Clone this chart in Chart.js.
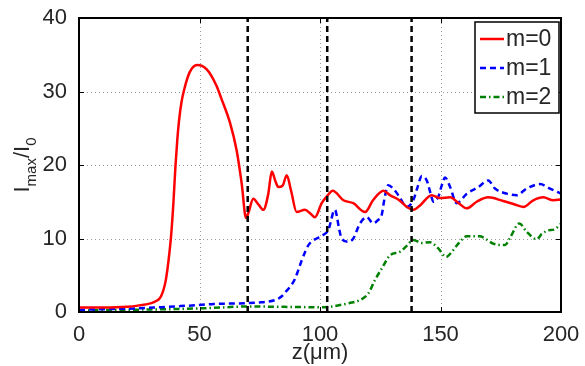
<!DOCTYPE html>
<html>
<head>
<meta charset="utf-8">
<script src="https://cdn.jsdelivr.net/npm/chart.js@4"></script>
<style>
  html, body { margin: 0; padding: 0; background: #fff; }
  #wrap { width: 585px; height: 366px; }
</style>
</head>
<body>
<div id="wrap"><canvas id="chart" width="585" height="366"></canvas></div>
<script>
// z positions (um) and Imax/I0 values
const zM0 = [0, 10, 20, 25, 30, 32, 34, 36, 37.5, 38.3, 39.2, 40, 40.8, 41.5, 42.5, 43.6, 45.9, 49, 51, 53, 55, 57, 59, 62.7, 65.4, 67.5, 69.3, 70.3, 72.3, 74.5, 76.5, 78.5, 80, 81.5, 82.7, 84.5, 86.2, 88, 90.3, 93.8, 96, 97.9, 100.7, 103, 105.3, 109.7, 113.8, 118.7, 122, 126.3, 129, 132.9, 136, 138.7, 141.5, 146.3, 149.8, 154, 157.4, 160.9, 165, 169.8, 176, 180.2, 184.4, 188.5, 192.7, 196.8, 200];
const m0 = [0.6, 0.6, 0.7, 0.9, 1.2, 1.5, 2.1, 4.3, 8, 10.7, 15, 19.7, 23.5, 26, 28.5, 30.2, 32.6, 33.6, 33.5, 33.0, 32.1, 30.8, 29.1, 25.7, 22, 17.5, 12.8, 13.5, 15.4, 14.6, 13.9, 16, 19.1, 17.8, 17.0, 17.2, 18.6, 16.5, 13.6, 13.9, 13.4, 12.9, 14.8, 15.8, 16.5, 15.2, 14.8, 13.6, 15.2, 16.5, 15.9, 15.2, 14.3, 13.9, 14.5, 15.9, 15.5, 15.6, 14.85, 14.1, 15.0, 15.6, 15.1, 14.7, 14.3, 15.2, 15.6, 15.2, 15.3];

const zM1 = [0, 13, 25, 33.6, 42, 50, 56, 62, 69.6, 75, 78, 82, 84, 86.2, 88, 89.6, 91, 92.4, 94, 95.2, 97, 98.6, 101.4, 103.5, 104.5, 105.5, 106.3, 107, 108, 109, 111.7, 113.8, 116.6, 119.4, 122.1, 124, 125.6, 126.8, 128.3, 130.4, 132.9, 136, 138.7, 140.5, 142.2, 144.3, 146, 147, 149.1, 150.5, 151.9, 154, 156.7, 160.9, 165.7, 169.8, 172.6, 177.5, 181.6, 185.8, 191.3, 195.4, 200];
const m1 = [0.3, 0.4, 0.5, 0.65, 0.8, 0.95, 1.1, 1.15, 1.2, 1.3, 1.4, 1.7, 2.1, 2.9, 3.6, 4.5, 5.7, 7.0, 8.3, 9.1, 9.7, 10.0, 10.5, 11.2, 12.3, 13.6, 13.9, 13.0, 11.2, 10.0, 9.55, 10.0, 12.05, 12.9, 12.05, 12.5, 13.2, 15.5, 17.25, 16.8, 15.7, 14.3, 15.2, 17.0, 18.5, 17.9, 16.0, 15.0, 15.7, 17.2, 18.3, 17.0, 14.8, 16.1, 17.0, 17.9, 16.8, 16.1, 15.9, 16.8, 17.4, 16.8, 16.1];

const zM2 = [0, 20, 40, 55, 70, 85, 100, 105, 108.3, 112, 116.6, 120, 122.8, 125.6, 129, 133.2, 136, 138.7, 142.2, 145.6, 149.1, 152.3, 155, 157.4, 160.9, 166.4, 168, 171.9, 176.8, 179, 182.7, 185.8, 189.9, 192, 194.7, 197, 200];
const m2 = [0.2, 0.3, 0.4, 0.55, 0.75, 0.7, 0.65, 0.75, 0.95, 1.2, 1.63, 2.5, 4.35, 5.9, 7.7, 8.2, 9.0, 9.8, 9.4, 9.5, 8.65, 7.5, 8.3, 9.3, 10.3, 10.3, 10.1, 9.3, 9.1, 10.2, 12.05, 10.9, 9.9, 10.6, 11.1, 11.2, 12.0];

// vertical dashed marker lines
const markerZ = [70, 103, 138];

const seriesLabels = ['m=0', 'm=1', 'm=2'];
const xTicks = [0, 50, 100, 150, 200];
const yTicks = [0, 10, 20, 30, 40];

const FONT = '"Liberation Sans", Arial, Helvetica, sans-serif';
const TXT = '#262626';

function pts(xs, ys) {
  return xs.map((x, i) => ({ x: x, y: ys[i] }));
}

const datasets = [
  { label: seriesLabels[0], data: pts(zM0, m0), borderColor: '#ff0000', borderWidth: 2.5, pointRadius: 0, cubicInterpolationMode: 'monotone', order: 1 },
  { label: seriesLabels[1], data: pts(zM1, m1), borderColor: '#0000ff', borderWidth: 2.5, borderDash: [6, 4], pointRadius: 0, cubicInterpolationMode: 'monotone', order: 2 },
  { label: seriesLabels[2], data: pts(zM2, m2), borderColor: '#008000', borderWidth: 2.5, borderDash: [6, 3, 1.5, 3], pointRadius: 0, cubicInterpolationMode: 'monotone', order: 3 }
];
markerZ.forEach(z => {
  datasets.push({
    label: '', data: [{ x: z, y: 0 }, { x: z, y: 40 }],
    borderColor: '#000', borderWidth: 2.5, borderDash: [6, 4], pointRadius: 0, order: 0
  });
});

// dotted grid behind the data
const dottedGrid = {
  id: 'dottedGrid',
  beforeDatasetsDraw(chart) {
    const ctx = chart.ctx;
    const a = chart.chartArea;
    const xs = chart.scales.x, ys = chart.scales.y;
    ctx.save();
    ctx.strokeStyle = '#999999';
    ctx.lineWidth = 1;
    ctx.setLineDash([1, 3]);
    xTicks.slice(1, -1).forEach(t => {
      const px = Math.round(xs.getPixelForValue(t)) + 0.5;
      ctx.beginPath(); ctx.moveTo(px, a.bottom); ctx.lineTo(px, a.top); ctx.stroke();
    });
    yTicks.slice(1, -1).forEach(t => {
      const py = Math.round(ys.getPixelForValue(t)) + 0.5;
      ctx.beginPath(); ctx.moveTo(a.left, py); ctx.lineTo(a.right, py); ctx.stroke();
    });
    ctx.restore();
  }
};

// frame, inner tick marks, y title with subscripts, legend box
const matlabLook = {
  id: 'matlabLook',
  afterDraw(chart) {
    const ctx = chart.ctx;
    const a = chart.chartArea;
    const xs = chart.scales.x, ys = chart.scales.y;
    ctx.save();
    ctx.strokeStyle = '#000';
    ctx.lineWidth = 1;
    ctx.setLineDash([]);
    xTicks.forEach(t => {
      const px = Math.round(xs.getPixelForValue(t)) + 0.5;
      ctx.beginPath();
      ctx.moveTo(px, a.bottom); ctx.lineTo(px, a.bottom - 5);
      ctx.moveTo(px, a.top); ctx.lineTo(px, a.top + 5);
      ctx.stroke();
    });
    yTicks.forEach(t => {
      const py = Math.round(ys.getPixelForValue(t)) + 0.5;
      ctx.beginPath();
      ctx.moveTo(a.left, py); ctx.lineTo(a.left + 5, py);
      ctx.moveTo(a.right, py); ctx.lineTo(a.right - 5, py);
      ctx.stroke();
    });
    ctx.lineWidth = 2;
    ctx.strokeRect(a.left, a.top, a.right - a.left, a.bottom - a.top);

    // y axis title: I_max / I_0
    ctx.translate(29, (a.top + a.bottom) / 2);
    ctx.rotate(-Math.PI / 2);
    ctx.fillStyle = TXT;
    ctx.textBaseline = 'alphabetic';
    const big = '22px ' + FONT, small = '15px ' + FONT;
    const parts = [['I', big, 0], ['max', small, 7], ['/', big, 0], ['I', big, 0], ['0', small, 7]];
    let w = 0;
    parts.forEach(p => { ctx.font = p[1]; w += ctx.measureText(p[0]).width; });
    let cx = -w / 2;
    parts.forEach(p => {
      ctx.font = p[1];
      ctx.fillText(p[0], cx, p[2]);
      cx += ctx.measureText(p[0]).width;
    });
    ctx.setTransform(1, 0, 0, 1, 0, 0);

    // legend
    const lx = a.right - 86, ly = a.top + 4, lw = 84, lh = 91;
    ctx.fillStyle = '#fff';
    ctx.fillRect(lx, ly, lw, lh);
    ctx.lineWidth = 1.5;
    ctx.strokeStyle = '#000';
    ctx.strokeRect(lx, ly, lw, lh);
    ctx.font = '23px ' + FONT;
    ctx.textBaseline = 'middle';
    for (let i = 0; i < 3; i++) {
      const ds = chart.data.datasets[i];
      const yy = ly + 17 + i * 29;
      ctx.strokeStyle = ds.borderColor;
      ctx.lineWidth = 2.5;
      ctx.setLineDash(ds.borderDash || []);
      ctx.beginPath();
      ctx.moveTo(lx + 5, yy); ctx.lineTo(lx + 29, yy);
      ctx.stroke();
      ctx.setLineDash([]);
      ctx.fillStyle = TXT;
      ctx.fillText(ds.label, lx + 31, yy + 1);
    }
    ctx.restore();
  }
};

new Chart(document.getElementById('chart'), {
  type: 'line',
  data: { datasets: datasets },
  options: {
    responsive: false,
    animation: false,
    layout: { padding: { top: 18, right: 24, left: 0, bottom: 0 } },
    plugins: { legend: { display: false }, tooltip: { enabled: false } },
    scales: {
      x: {
        type: 'linear', min: 0, max: 200,
        afterBuildTicks: s => { s.ticks = xTicks.map(v => ({ value: v })); },
        afterFit: s => { s.height = 54; },
        ticks: { color: TXT, font: { family: FONT, size: 22 }, padding: 2, maxRotation: 0 },
        grid: { display: false },
        border: { display: false },
        title: { display: true, text: 'z(μm)', color: TXT, font: { family: FONT, size: 22 }, padding: { top: -6, bottom: 0 } }
      },
      y: {
        type: 'linear', min: 0, max: 40,
        afterBuildTicks: s => { s.ticks = yTicks.map(v => ({ value: v })); },
        afterFit: s => { s.width = 79; },
        ticks: { color: TXT, font: { family: FONT, size: 22 }, padding: 4 },
        grid: { display: false },
        border: { display: false }
      }
    }
  },
  plugins: [dottedGrid, matlabLook]
});
</script>
</body>
</html>
